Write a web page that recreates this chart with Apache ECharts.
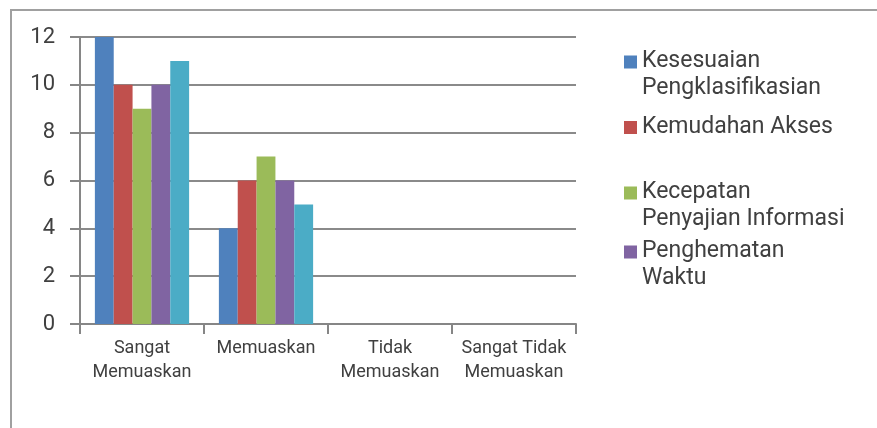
<!DOCTYPE html>
<html>
<head>
<meta charset="utf-8">
<script src="https://cdn.jsdelivr.net/npm/echarts@6/dist/echarts.min.js"></script>
<style>
  html,body{margin:0;padding:0;background:#fff;}
  #chart{width:877px;height:428px;}
</style>
</head>
<body>
<div id="chart"></div>
<script>
  // kategori dan nilai
  var categories = ["Sangat\nMemuaskan", "Memuaskan", "Tidak\nMemuaskan", "Sangat Tidak\nMemuaskan"];
  var kesesuaian = [12, 4, 0, 0];
  var kemudahan = [10, 6, 0, 0];
  var kecepatan = [9, 7, 0, 0];
  var penghematan = [10, 6, 0, 0];
  var lainnya = [11, 5, 0, 0];
  var yTicks = [0, 2, 4, 6, 8, 10, 12];

  var names = ["Kesesuaian Pengklasifikasian", "Kemudahan Akses", "Kecepatan Penyajian Informasi", "Penghematan Waktu", "Lainnya"];
  var wrapped = {
    "Kesesuaian Pengklasifikasian": "Kesesuaian\nPengklasifikasian",
    "Kemudahan Akses": "Kemudahan Akses",
    "Kecepatan Penyajian Informasi": "Kecepatan\nPenyajian Informasi",
    "Penghematan Waktu": "Penghematan\nWaktu"
  };
  var colors = ["#4F81BD", "#C0504D", "#9BBB59", "#8064A2", "#4BACC6"];
  var values = [kesesuaian, kemudahan, kecepatan, penghematan, lainnya];

  // kotak legenda di baris pertama teks (path dengan titik kosong di bawah)
  var tallIcon = "path://M0,0H10V10H0Z M0,29.99L0.01,30";
  var legendTops = [43, 109, 174, 233];
  var legends = legendTops.map(function(t, i){
    var twoLines = wrapped[names[i]].indexOf("\n") >= 0;
    return {
      data: [names[i]],
      left: 619,
      top: t,
      orient: "vertical",
      itemWidth: 13,
      itemHeight: twoLines ? 39 : 13,
      icon: twoLines ? tallIcon : "rect",
      formatter: function(n){ return wrapped[n] },
      textStyle: {fontSize: 23, color: "#404040", fontFamily: "Roboto", lineHeight: 27}
    }
  });

  var myChart = echarts.init(document.getElementById("chart"));
  myChart.setOption({
    animation: false,
    color: colors,
    graphic: [{
      type: "rect",
      shape: {x: 11, y: 10, width: 900, height: 500},
      style: {fill: "none", stroke: "#a0a0a0", lineWidth: 2}
    }],
    legend: legends,
    grid: {left: 80, right: 301, top: 37, bottom: 104},
    xAxis: {
      type: "category",
      data: categories,
      axisLine: {lineStyle: {color: "#868686", width: 2}},
      axisTick: {show: true, interval: 0, length: 10, lineStyle: {color: "#868686", width: 2}},
      axisLabel: {interval: 0, fontSize: 18, color: "#404040", fontFamily: "Roboto", lineHeight: 24, margin: 12}
    },
    yAxis: {
      type: "value",
      min: 0,
      max: 12,
      interval: 2,
      axisLine: {show: true, lineStyle: {color: "#868686", width: 2}},
      axisTick: {show: true, length: 10, inside: false, lineStyle: {color: "#868686", width: 2}},
      splitLine: {lineStyle: {color: "#8a8a8a", width: 2}},
      axisLabel: {
        fontSize: 22, color: "#404040", fontFamily: "Roboto", margin: 25,
        formatter: function(v){ return yTicks.indexOf(v) >= 0 ? String(v) : "" }
      }
    },
    series: values.map(function(d, i){
      return {
        name: names[i],
        type: "bar",
        data: d,
        barGap: "0%",
        barCategoryGap: "24%",
        itemStyle: {color: colors[i]}
      }
    })
  });
</script>
</body>
</html>
